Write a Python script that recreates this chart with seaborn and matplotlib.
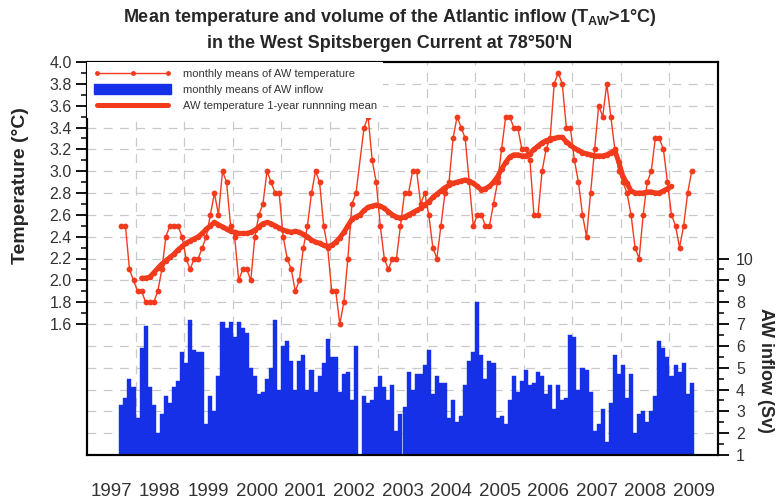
import numpy as np
import pandas as pd
import matplotlib
matplotlib.use("Agg")
import matplotlib.pyplot as plt
import seaborn as sns
from matplotlib.lines import Line2D
from matplotlib.patches import Patch
from matplotlib.ticker import FixedLocator, FormatStrFormatter, NullFormatter

# ---- data: monthly series starting September 1997 ----
start_year, start_month = 1997, 9

aw_temperature = [
    2.5, 2.5, 2.1, 2.0,                                              # 1997 Sep-Dec
    1.9, 1.9, 1.8, 1.8, 1.8, 1.9, 2.1, 2.4, 2.5, 2.5, 2.5, 2.4,      # 1998
    2.2, 2.1, 2.2, 2.2, 2.3, 2.4, 2.6, 2.8, 2.6, 3.0, 2.9, 2.5,      # 1999
    2.4, 2.0, 2.1, 2.1, 2.0, 2.4, 2.6, 2.7, 3.0, 2.9, 2.8, 2.8,      # 2000
    2.4, 2.2, 2.1, 1.9, 2.0, 2.3, 2.5, 2.8, 3.0, 2.9, 2.5, 2.3,      # 2001
    1.9, 1.9, 1.6, 1.8, 2.2, 2.7, 2.8, np.nan, 3.4, 3.5, 3.1, 2.9,   # 2002
    2.5, 2.2, 2.1, 2.2, 2.2, 2.5, 2.8, 2.8, 3.0, 3.0, 2.7, 2.8,      # 2003
    2.6, 2.3, 2.2, 2.5, 2.8, 2.9, 3.3, 3.5, 3.4, 3.3, 2.9, 2.5,      # 2004
    2.6, 2.6, 2.5, 2.5, 2.7, 2.9, 3.2, 3.5, 3.5, 3.4, 3.4, 3.2,      # 2005
    3.2, 3.1, 2.6, 2.6, 3.0, 3.2, 3.3, 3.8, 3.9, 3.8, 3.4, 3.4,      # 2006
    3.1, 2.9, 2.6, 2.4, 2.8, 3.2, 3.6, 3.5, 3.8, 3.5, 3.2, 3.0,      # 2007
    2.9, 2.8, 2.6, 2.3, 2.2, 2.6, 2.9, 3.0, 3.3, 3.3, 3.2, 2.9,      # 2008
    2.6, 2.5, 2.3, 2.5, 2.8, 3.0,                                    # 2009 Jan-Jun
]

aw_inflow = [
    3.3, 3.6, 4.5, 4.1,                                              # 1997 Sep-Dec
    2.7, 5.9, 6.9, 4.1, 3.3, 2.0, 2.9, 3.7, 3.4, 4.1, 4.4, 5.7,      # 1998
    5.2, 7.2, 5.8, 5.7, 5.7, 2.4, 3.7, 3.0, 4.6, 7.1, 6.8, 7.1,      # 1999
    6.4, 7.1, 6.8, 6.6, 5.0, 4.6, 3.8, 3.9, 4.5, 5.0, 7.2, 4.0,      # 2000
    6.0, 6.2, 5.3, 4.0, 5.3, 5.6, 4.0, 4.9, 3.9, 4.6, 5.2, 6.3,      # 2001
    5.5, 5.5, 3.9, 4.7, 4.8, 3.5, 6.0, np.nan, 3.7, 3.4, 3.5, 4.1,   # 2002
    4.6, 4.1, 3.5, 4.2, 2.1, 2.9, 3.2, 4.8, 4.0, 4.7, 4.7, 5.1,      # 2003
    5.8, 3.8, 4.6, 4.3, 4.3, 2.7, 3.5, 2.5, 2.8, 4.2, 5.3, 5.7,      # 2004
    8.0, 5.6, 4.5, 5.3, 5.2, 2.7, 2.8, 2.4, 3.5, 4.6, 3.9, 4.4,      # 2005
    4.9, 4.2, 4.3, 4.8, 4.6, 3.8, 4.2, 3.1, 4.2, 3.5, 3.6, 6.5,      # 2006
    6.4, 4.0, 5.0, 4.9, 3.9, 2.1, 2.4, 3.1, 1.6, 3.4, 5.6, 4.7,      # 2007
    5.1, 3.6, 4.7, 2.0, 2.9, 3.0, 2.5, 3.0, 3.7, 6.2, 5.9, 5.5,      # 2008
    4.6, 5.1, 4.8, 5.2, 3.8, 4.3,                                    # 2009 Jan-Jun
]

# 1-year running mean, first value belongs to February 1998
running_mean_start = 5
aw_running_mean = [
    2.02, 2.02, 2.03, 2.07, 2.11, 2.15, 2.18, 2.21, 2.24, 2.28, 2.31,
    2.34, 2.36, 2.38, 2.40, 2.43, 2.47, 2.50, 2.53, 2.51, 2.49, 2.47, 2.45,
    2.44, 2.43, 2.43, 2.43, 2.44, 2.46, 2.49, 2.52, 2.53, 2.52, 2.50, 2.48,
    2.46, 2.45, 2.44, 2.45, 2.44, 2.42, 2.40, 2.37, 2.35, 2.34, 2.32, 2.31,
    2.32, 2.35, 2.39, 2.44, 2.50, 2.56, 2.58, 2.60, 2.64, 2.67, 2.68, 2.69,
    2.68, 2.66, 2.63, 2.60, 2.58, 2.57, 2.58, 2.60, 2.62, 2.64, 2.66, 2.69,
    2.72, 2.76, 2.79, 2.82, 2.85, 2.87, 2.89, 2.90, 2.91, 2.92, 2.91, 2.89,
    2.86, 2.83, 2.84, 2.86, 2.90, 2.95, 3.02, 3.08, 3.13, 3.15, 3.15, 3.14,
    3.14, 3.16, 3.20, 3.23, 3.26, 3.28, 3.29, 3.30, 3.31, 3.31, 3.27, 3.24,
    3.21, 3.19, 3.17, 3.16, 3.15, 3.14, 3.14, 3.14, 3.15, 3.17, 3.19, 3.08,
    2.95, 2.89, 2.82, 2.80, 2.80, 2.80, 2.81, 2.81, 2.80, 2.80, 2.82, 2.84,
    2.86,
]

year_labels = [str(y) for y in range(1997, 2010)]
temp_ticks = [1.6, 1.8, 2.0, 2.2, 2.4, 2.6, 2.8, 3.0, 3.2, 3.4, 3.6, 3.8, 4.0]
inflow_ticks = [1, 2, 3, 4, 5, 6, 7, 8, 9, 10]

# ---- tables ----
n = len(aw_temperature)
month_index = np.arange(n)
t_mid = start_year + (start_month - 1 + month_index + 0.5) / 12.0

monthly = pd.DataFrame({"time": t_mid, "temperature": aw_temperature, "inflow": aw_inflow})
running = pd.DataFrame({
    "time": t_mid[running_mean_start:running_mean_start + len(aw_running_mean)],
    "temperature": aw_running_mean,
})

RED = "#F23A1C"
BLUE = "#1530E6"
GRID = "#C9C9C9"
TXT = "#333333"

sns.set_theme(style="white")
plt.rcParams["font.family"] = ["Liberation Sans", "DejaVu Sans"]
plt.rcParams["mathtext.fontset"] = "custom"
plt.rcParams["mathtext.rm"] = "Liberation Sans:bold"
plt.rcParams["mathtext.it"] = "Liberation Sans:bold"
plt.rcParams["mathtext.bf"] = "Liberation Sans:bold"

fig = plt.figure(figsize=(7.8, 5.04), dpi=100)
ax = fig.add_axes([87 / 780, 1 - 455 / 504, (718 - 87) / 780, (455 - 62) / 504])
ax2 = ax.twinx()
ax.set_zorder(ax2.get_zorder() + 1)
ax.patch.set_visible(False)

# grid (drawn on the inflow axes so it stays behind the bars)
for yv in range(2, 19):
    ax2.axhline(yv, color=GRID, lw=0.9, ls=(0, (7, 6)), zorder=0)
for xv in range(1998, 2010):
    ax2.axvline(xv, color=GRID, lw=0.9, ls=(0, (7, 6)), zorder=0)

# monthly inflow bars
bars = monthly.dropna(subset=["inflow"])
ax2.bar(bars["time"], bars["inflow"], width=1 / 12, color=BLUE, edgecolor=BLUE,
        linewidth=0.3, zorder=2)

# monthly temperature and its running mean
sns.lineplot(data=monthly.dropna(subset=["temperature"]), x="time", y="temperature",
             ax=ax, color=RED, lw=1.0, marker="o", markersize=4.2,
             markeredgewidth=0, zorder=3)
sns.lineplot(data=running, x="time", y="temperature", ax=ax, color=RED, lw=3.6,
             marker="o", markersize=4, markeredgewidth=0, zorder=4)

# ---- axes ----
ax.set_xlim(1997, 2010)
ax.set_ylim(0.4, 4.0)
ax2.set_ylim(1, 19)

ax.xaxis.set_major_locator(FixedLocator(np.arange(1997, 2011)))
ax.xaxis.set_minor_locator(FixedLocator(np.arange(1997, 2010.01, 0.25)))
ax.xaxis.set_major_formatter(NullFormatter())
ax.yaxis.set_major_locator(FixedLocator(temp_ticks))
ax.yaxis.set_minor_locator(FixedLocator(np.arange(1.7, 4.0, 0.2)))
ax.yaxis.set_major_formatter(FormatStrFormatter("%.1f"))
ax2.yaxis.set_major_locator(FixedLocator(inflow_ticks))
ax2.yaxis.set_minor_locator(FixedLocator(np.arange(1.5, 10.0, 1.0)))

ax.tick_params(axis="x", which="major", direction="out", length=8, width=1.3, color="black")
ax.tick_params(axis="x", which="minor", direction="out", length=3.5, width=1.1, color="black")
ax.tick_params(axis="y", which="major", direction="out", length=8, width=1.3,
               color="black", labelsize=11.5, labelcolor=TXT, pad=3)
ax.tick_params(axis="y", which="minor", direction="out", length=4, width=1.1, color="black")
ax2.tick_params(axis="y", which="major", direction="out", length=8, width=1.3,
                color="black", labelsize=11.5, labelcolor=TXT, pad=5)
ax2.tick_params(axis="y", which="minor", direction="out", length=4, width=1.1, color="black")
ax2.tick_params(axis="x", which="both", length=0, labelbottom=False)

for a in (ax, ax2):
    for s in a.spines.values():
        s.set_color("black")
        s.set_linewidth(1.5)

# year labels centred on each year
sec = ax.secondary_xaxis("bottom")
sec.set_xticks(np.arange(1997.5, 2009.6, 1.0), labels=year_labels)
sec.tick_params(length=0, pad=20, labelsize=13.5, labelcolor=TXT)
sec.spines["bottom"].set_visible(False)

ax.set_xlabel("")
ax2.set_xlabel("")
ax.set_ylabel("Temperature (°C)", fontsize=14, fontweight="bold",
              rotation=90, ha="center", va="center")
ax.yaxis.set_label_coords((21 - 87) / 631, (455 - 186) / 393)
ax2.set_ylabel("AW inflow (Sv)", fontsize=13, fontweight="bold",
               rotation=-90, ha="center", va="center")
ax2.yaxis.set_label_coords((765 - 87) / 631, (455 - 370) / 393)

fig.text(0.5, 1 - 18 / 504, "Mean temperature and volume of the Atlantic inflow (T$_{AW}$>1°C)",
         ha="center", va="center", fontsize=13, fontweight="bold")
fig.text(0.5, 1 - 43 / 504, "in the West Spitsbergen Current at 78°50'N",
         ha="center", va="center", fontsize=13, fontweight="bold")

handles = [
    Line2D([], [], color=RED, lw=1.0, marker="o", markersize=3.5, markeredgewidth=0),
    Patch(facecolor=BLUE, edgecolor=BLUE),
    Line2D([], [], color=RED, lw=3.6),
]
labels = ["monthly means of AW temperature", "monthly means of AW inflow",
          "AW temperature 1-year runnning mean"]
leg = ax.legend(handles, labels, loc="upper left", bbox_to_anchor=(0.0, 1.0),
                fontsize=8, frameon=True, facecolor="white", edgecolor="none",
                framealpha=1, fancybox=False, numpoints=3, handlelength=7,
                handleheight=1.0, handletextpad=1.0, labelspacing=0.45,
                borderpad=0.6, borderaxespad=0.0)
for t in leg.get_texts():
    t.set_color(TXT)

fig.savefig("out.png", dpi=100)
